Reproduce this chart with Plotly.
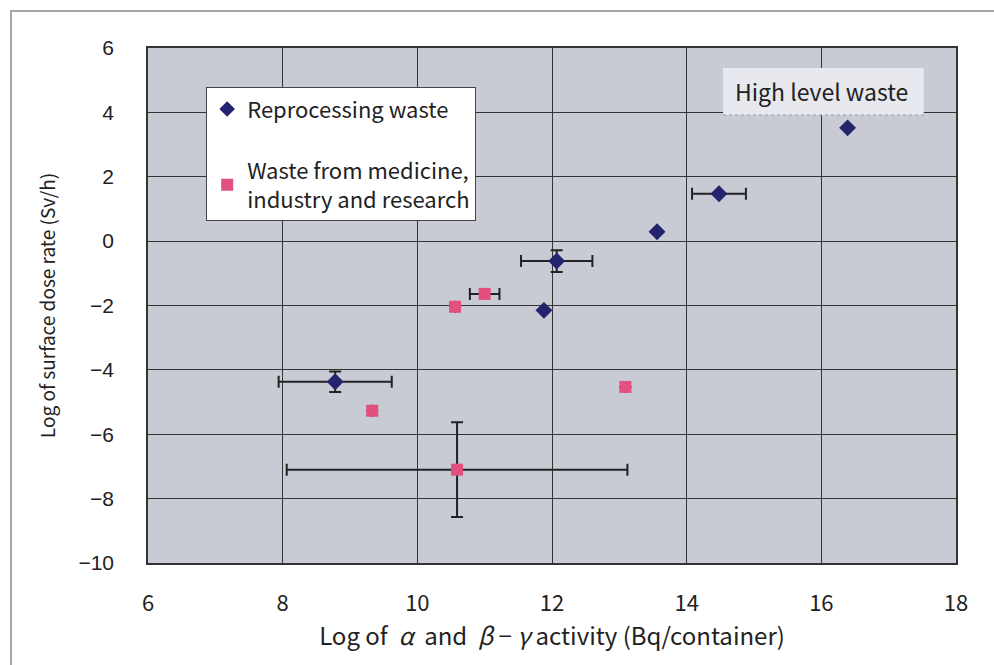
import plotly.graph_objects as go

# Reprocessing waste
rep_x = [16.39, 14.48, 13.56, 12.07, 11.88, 8.78]
rep_y = [3.52, 1.47, 0.29, -0.62, -2.15, -4.37]
rep_ex = [0, 0.40, 0, 0.53, 0, 0.84]
rep_ey = [0, 0, 0, 0.34, 0, 0.32]

# Waste from medicine, industry and research
med_x = [10.56, 11.00, 9.33, 13.09, 10.59]
med_y = [-2.04, -1.64, -5.27, -4.53, -7.10]
med_ex = [0, 0.22, 0, 0, 2.53]
med_ey = [0, 0, 0, 0, 1.47]

x_ticks = [6, 8, 10, 12, 14, 16, 18]
y_ticks = [6, 4, 2, 0, -2, -4, -6, -8, -10]

FONT = "Noto Sans CJK JP"
NAVY = "#23236e"
PINK = "#e2507f"

fig = go.Figure()
fig.add_trace(go.Scatter(
    x=rep_x, y=rep_y, mode="markers", name="Reprocessing waste",
    legendgroup="a",
    marker=dict(symbol="diamond", size=13, color=NAVY),
    error_x=dict(type="data", array=rep_ex, color="#222", thickness=2, width=6),
    error_y=dict(type="data", array=rep_ey, color="#222", thickness=2, width=6),
))
fig.add_trace(go.Scatter(
    x=med_x, y=med_y, mode="markers",
    name="Waste from medicine,<br>industry and research",
    legendgroup="b",
    marker=dict(symbol="square", size=12, color=PINK),
    error_x=dict(type="data", array=med_ex, color="#222", thickness=2, width=6),
    error_y=dict(type="data", array=med_ey, color="#222", thickness=2, width=6),
))

# High level waste label box
fig.add_shape(type="rect", xref="x", yref="y", x0=14.54, x1=17.52, y0=3.92, y1=5.38,
              fillcolor="#e7e9ee", line=dict(width=0), layer="above")
fig.add_shape(type="line", xref="x", yref="y", x0=14.54, x1=17.52, y0=3.92, y1=3.92,
              line=dict(color="#999", width=1, dash="dot"), layer="above")
fig.add_annotation(x=16.0, y=4.66, xref="x", yref="y", text="High level waste",
                   showarrow=False, font=dict(family=FONT, size=23, color="#222"))

# Outer frame
fig.add_shape(type="rect", xref="paper", yref="paper", x0=-0.1696, x1=1.3, y0=-0.4, y1=1.0718,
              line=dict(color="#8a8a8a", width=1.5), fillcolor="rgba(0,0,0,0)")

fig.update_layout(
    width=994, height=665,
    margin=dict(l=148, r=38, t=48, b=102),
    paper_bgcolor="white",
    plot_bgcolor="#c8cbd3",
    font=dict(family=FONT, size=21, color="#222"),
    showlegend=True,
    legend=dict(
        x=0.072, y=0.924, xanchor="left", yanchor="top",
        bgcolor="white", bordercolor="#444", borderwidth=1,
        font=dict(family=FONT, size=22, color="#222"),
        traceorder="grouped", tracegroupgap=30,
        itemsizing="constant",
    ),
)
fig.update_xaxes(
    range=[6, 18], tickvals=x_ticks, ticktext=[str(v) for v in x_ticks],
    showgrid=True, gridcolor="#333", gridwidth=1,
    showline=True, linecolor="#333", linewidth=1.5, mirror=True,
    zeroline=False, ticks="", ticklabelstandoff=20,
    tickfont=dict(family=FONT, size=22),
    title=dict(text="Log of  <i>α</i>  and  <i>β</i> − <i>γ</i> activity (Bq/container)",
               font=dict(family=FONT, size=24), standoff=1),
)
fig.update_yaxes(
    range=[-10, 6], tickvals=y_ticks, ticktext=[str(v).replace("-", "−") for v in y_ticks],
    showgrid=True, gridcolor="#333", gridwidth=1,
    showline=True, linecolor="#333", linewidth=1.5, mirror=True,
    zeroline=False, ticks="", ticklabelstandoff=28,
    tickfont=dict(family="Liberation Sans", size=21),
    title=dict(text="Log of surface dose rate (Sv/h)",
               font=dict(family=FONT, size=19), standoff=18),
)

fig.write_html("out.html")
